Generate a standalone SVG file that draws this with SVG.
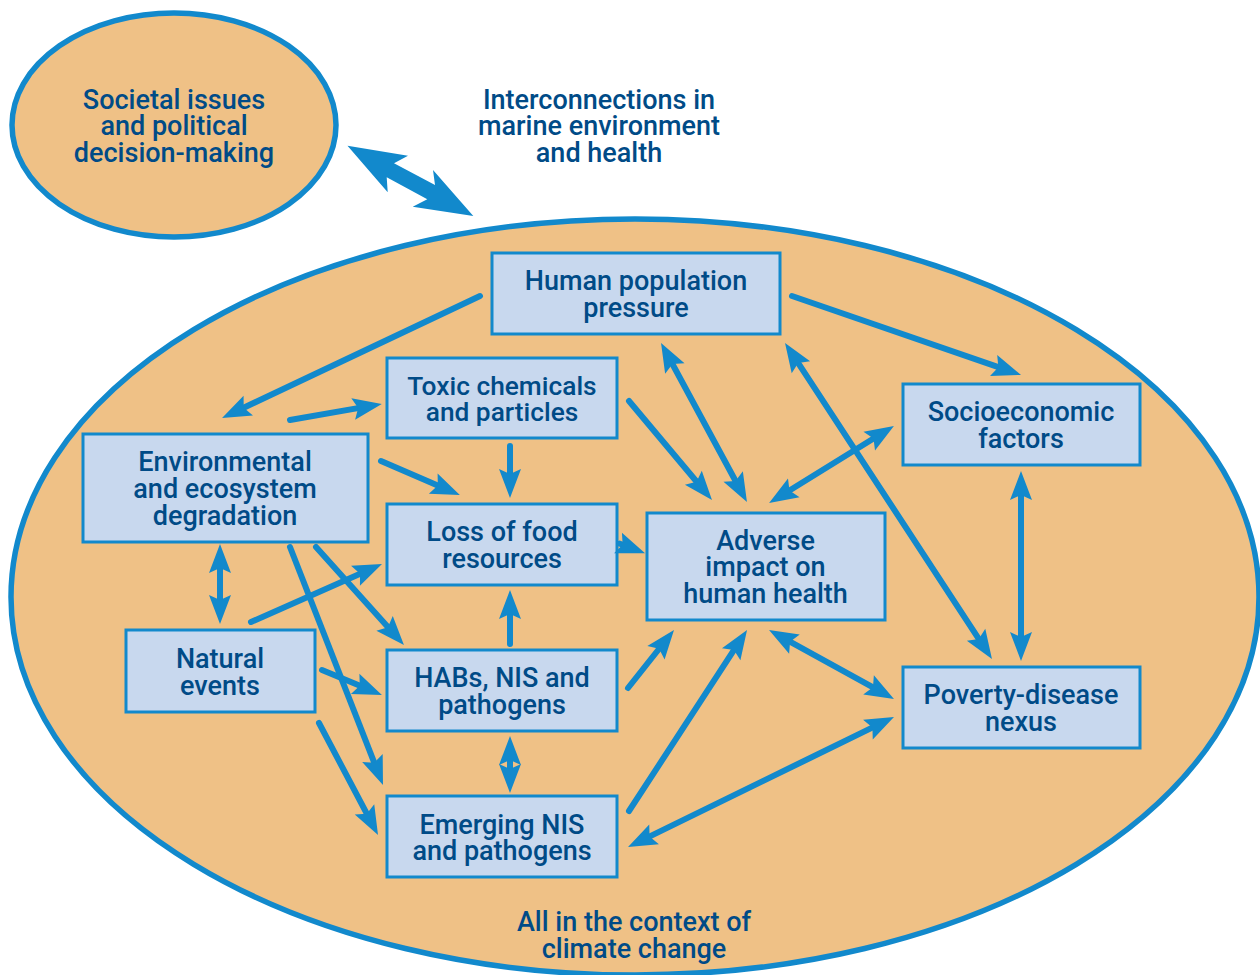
<svg xmlns="http://www.w3.org/2000/svg" width="1260" height="975" viewBox="0 0 1260 975">
<style>
.e{fill:#EFC186;stroke:#1289CC;stroke-width:5.500}
.b{fill:#C8D8EE;stroke:#1289CC;stroke-width:3}
text{font-family:Roboto,"Liberation Sans",sans-serif;font-weight:500;font-size:27px;fill:#004B87;text-anchor:middle}
#toxic text{font-size:26.300px}
.c path{fill:none;stroke:#1289CC;stroke-width:6;stroke-linecap:round;marker-end:url(#h)}
.c path.d{marker-start:url(#h)}
</style>
<defs>
<marker id="h" markerUnits="userSpaceOnUse" viewBox="-16 -12 34 24" refX="0" refY="0" markerWidth="34" markerHeight="24" orient="auto-start-reverse">
<path d="M14,0 L-15,-11 L-10,0 L-15,11 Z" fill="#1289CC"/>
</marker>
</defs>
<rect width="1260" height="975" fill="#fff"/>
<g id="context"><ellipse class="e" cx="635" cy="597" rx="624" ry="378"/>
<text x="634" y="931.300">All in the context of</text><text x="634" y="958.300">climate change</text></g>
<g id="societal"><ellipse class="e" cx="174" cy="125" rx="162" ry="112"/>
<text x="174" y="109.300">Societal issues</text><text x="174" y="135.300">and political</text><text x="174" y="162.300">decision-making</text></g>
<g id="title"><text x="599" y="109.300">Interconnections in</text><text x="599" y="135.300">marine environment</text><text x="599" y="162.300">and health</text></g>
<g id="human-population"><rect class="b" x="492" y="253" width="288" height="81"/><text x="636" y="290.300">Human population</text><text x="636" y="317.300">pressure</text></g>
<g id="toxic"><rect class="b" x="387" y="358" width="230" height="80"/><text x="502" y="395">Toxic chemicals</text><text x="502" y="421">and particles</text></g>
<g id="environmental"><rect class="b" x="83" y="434" width="285" height="108"/><text x="225" y="471.300">Environmental</text><text x="225" y="498.300">and ecosystem</text><text x="225" y="525.300">degradation</text></g>
<g id="loss"><rect class="b" x="387" y="504" width="230" height="81"/><text x="502" y="541.300">Loss of food</text><text x="502" y="568.300">resources</text></g>
<g id="adverse"><rect class="b" x="647" y="513" width="238" height="107"/><text x="765.500" y="550.300">Adverse</text><text x="765.500" y="576.300">impact on</text><text x="765.500" y="603.300">human health</text></g>
<g id="socioeconomic"><rect class="b" x="903" y="384" width="237" height="81"/><text x="1021" y="421.300">Socioeconomic</text><text x="1021" y="448.300">factors</text></g>
<g id="poverty"><rect class="b" x="903" y="667" width="237" height="81"/><text x="1021" y="704.300">Poverty-disease</text><text x="1021" y="731.300">nexus</text></g>
<g id="natural"><rect class="b" x="126" y="630" width="189" height="82"/><text x="220" y="668.300">Natural</text><text x="220" y="695.300">events</text></g>
<g id="habs"><rect class="b" x="387" y="650" width="230" height="81"/><text x="502" y="687.300">HABs, NIS and</text><text x="502" y="714.300">pathogens</text></g>
<g id="emerging"><rect class="b" x="387" y="796" width="230" height="81"/><text x="502" y="834.300">Emerging NIS</text><text x="502" y="860.300">and pathogens</text></g>
<g id="connectors" class="c">
<polygon fill="#1289CC" points="347.500,145.700 408,155.700 394,163.300 435,185 433,170 473.300,216 412.700,206.700 427.300,199.300 386.700,177.300 387.700,192.300"/>
<path d="M480,296L234.700,412"/>
<path d="M290,420L368,406.400"/>
<path d="M629,401L703,489.300"/>
<path d="M510,446L510,484"/>
<path d="M381,461L447,489.500"/>
<path d="M620,543.700L632,548.300"/>
<path class="d" d="M667.700,355.300L740.300,489.700"/>
<path class="d" d="M792.700,354.700L984.300,647.300"/>
<path d="M792,296L1007.800,370.400"/>
<path class="d" d="M882,433.300L781,495.700"/>
<path class="d" d="M1021,485L1021,647"/>
<path class="d" d="M781.300,636.800L881.700,692.200"/>
<path class="d" d="M640.600,840.900L881.400,723.100"/>
<path d="M629,811L739.400,641.700"/>
<path d="M628,688L665.300,641"/>
<path d="M510,644L510,604"/>
<path class="d" d="M510,750L510,779"/>
<path d="M251,622L369.200,569.700"/>
<path d="M316,547L394.600,634.600"/>
<path d="M290,547L377.900,772"/>
<path d="M322,670L369,689.600"/>
<path d="M319,723L371.500,822.600"/>
<path class="d" d="M220,558L220,610"/>
</g>
</svg>
